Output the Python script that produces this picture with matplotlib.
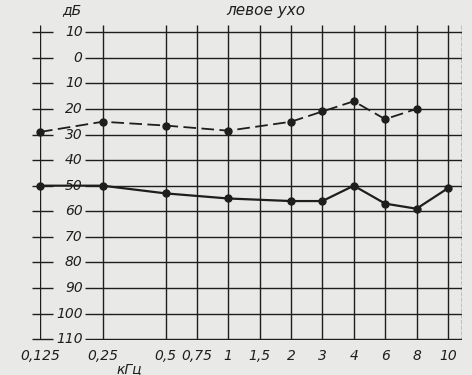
import matplotlib
matplotlib.use('Agg')
from matplotlib import pyplot as plt

# audiogram, left ear
freq_labels = ['0,125', '0,25', '0,5', '0,75', '1', '1,5', '2', '3', '4', '6', '8', '10']
freq_pos = [0, 2, 4, 5, 6, 7, 8, 9, 10, 11, 12, 13]
db_levels = [-10, 0, 10, 20, 30, 40, 50, 60, 70, 80, 90, 100, 110]

dash_freqs = ['0,125', '0,25', '0,5', '1', '2', '3', '4', '6', '8']
dash_db = [29, 25, 26.5, 28.5, 25, 21, 17, 24, 20]

solid_freqs = ['0,125', '0,25', '0,5', '1', '2', '3', '4', '6', '8', '10']
solid_db = [50, 50, 53, 55, 56, 56, 50, 57, 59, 51]

ink = '#1e1e1e'
paper = '#e9e9e7'

fig = plt.figure(figsize=(4.72, 3.75), dpi=100, facecolor=paper)
# axes placed so x=0 is at px 40 and x=13.45 at px 462
ax = fig.add_axes([40/472, 35/375, 422/472, 315/375])
ax.set_facecolor(paper)
ax.set_xlim(0, 13.45)
ax.set_ylim(110.3, -12.8)
for s in ax.spines.values():
	s.set_visible(False)
ax.set_xticks([])
ax.set_yticks([])

pos = dict(zip(freq_labels, freq_pos))

# grid
ax.hlines(db_levels, 1.42, 13.45, color=ink, lw=1.0)
ax.hlines(db_levels, -0.24, 0.42, color=ink, lw=1.0, clip_on=False)
ax.vlines(freq_pos, -12.8, 110.3, color=ink, lw=1.0)
ax.vlines([13.45], -12.8, 110.3, color=ink, lw=1.0, linestyles=(0, (3, 1)))

# y labels (sign not drawn, as on the form)
for v in db_levels:
	ax.text(1.36, v, str(abs(v)), ha='right', va='center', fontsize=10, style='italic', color=ink)

# x labels
for lab, p in zip(freq_labels, freq_pos):
	ax.text(p, 116.5, lab, ha='center', va='center', fontsize=10, style='italic', color=ink, clip_on=False)
ax.text(2.85, 121.5, 'кГц', ha='center', va='center', fontsize=10, style='italic', color=ink, clip_on=False)
ax.text(1.0, -18.5, 'дБ', ha='center', va='center', fontsize=10, style='italic', color=ink, clip_on=False)
ax.text(7.2, -18.5, 'левое ухо', ha='center', va='center', fontsize=11, style='italic', color=ink, clip_on=False)

# curves
ax.plot([pos[f] for f in dash_freqs], dash_db, color=ink, lw=1.3, ls=(0, (7, 3)),
	marker='o', ms=5, mfc=ink, mec=ink, clip_on=False, zorder=5)
ax.plot([pos[f] for f in solid_freqs], solid_db, color=ink, lw=1.6,
	marker='o', ms=5, mfc=ink, mec=ink, clip_on=False, zorder=5)

plt.savefig('out.png', dpi=100, facecolor=paper)
